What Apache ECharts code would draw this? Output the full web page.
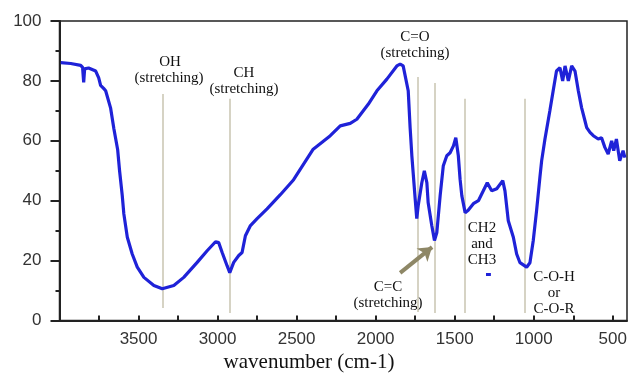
<!DOCTYPE html>
<html>
<head>
<meta charset="utf-8">
<script src="https://cdn.jsdelivr.net/npm/echarts@6/dist/echarts.min.js"></script>
<style>
html,body{margin:0;padding:0;background:#fff;}
#chart{width:630px;height:373px;}
</style>
</head>
<body>
<div id="chart"></div>
<script>
// wavenumber (cm-1) and transmittance (%)
const wavenumber = [3992,3929,3866,3854,3847,3841,3816,3771,3752,3740,3721,3708,3677,3656,3632,3620,3603,3593,3571,3540,3508,3466,3403,3350,3277,3214,3129,3066,3013,2993,2971,2940,2923,2898,2866,2845,2824,2792,2750,2687,2603,2519,2395,2287,2224,2161,2119,2047,1992,1929,1866,1845,1826,1794,1782,1771,1750,1740,1731,1708,1692,1676,1668,1645,1628,1613,1592,1572,1550,1529,1508,1493,1477,1466,1455,1434,1416,1382,1350,1319,1294,1266,1234,1196,1182,1161,1129,1108,1087,1045,1024,1003,982,961,950,929,898,877,856,834,817,802,781,760,739,718,697,676,665,644,623,592,571,550,529,507,494,477,456,435,423];
const transmittance = [86.1,85.8,85.2,84.5,79.5,84,84.3,83.3,81,78.5,77.5,76.7,71,64,57,50,41.7,35.6,27.8,22.2,17.8,14.4,11.7,10.6,11.7,14.4,19.4,23.3,26.3,26,22.7,18.3,16,19.4,21.7,22.7,28.3,31.7,34,37.3,42,47,57.2,61.7,65,65.8,67.2,72.2,76.7,80.6,85,85.6,85,76.7,64.4,55,40.6,34,38.3,46,50,46,39.4,31.7,26.7,29.4,41.7,51.7,55,56,58.3,61,55,47.2,41.7,36,36.7,39,40,43.3,46,43.3,44,46.7,43.3,33.3,27.8,22.2,19.3,17.8,19.3,26.7,36.7,47.8,53.3,60.6,70,76.7,83.3,84.4,80,85,80,85,83.3,76.7,71,66.7,64.4,62.8,61.7,60.6,61,57.8,55.6,60,56.7,60.6,53.3,56.7,54.4];
// small stray blue dash in the reference
const dashX = [1302, 1271];
const dashY = [15.4, 15.4];
// annotation band positions (wavenumber) and vertical extents (value)
const bandX = [3350, 2925, 1733, 1625, 1434, 1055];
const bandTop = [75.6, 74, 81.3, 79.3, 74, 74];
const bandBottom = [4.2, 2.5, 2.8, 2.5, 2.5, 2.5];
// arrow (data coords)
const arrowFrom = [1845, 15.9];
const arrowTo = [1643, 24.5];
const xLabels = [3500, 3000, 2500, 2000, 1500, 1000, 500];
const xTicks = [3750, 3500, 3250, 3000, 2750, 2500, 2250, 2000, 1750, 1500, 1250, 1000, 750, 500];

const chart = echarts.init(document.getElementById('chart'));
const serif = 'Liberation Serif, DejaVu Serif, serif';
const sans = 'Liberation Sans, Arial, sans-serif';

const bandLines = bandX.map((x, i) => [
  {coord: [x, bandTop[i]]},
  {coord: [x, bandBottom[i]]}
]);

function t(x, y, s, size) {
  return {type: 'text', x: x, y: y, style: {text: s, align: 'center', verticalAlign: 'middle', fill: '#111', font: (size || 15) + 'px ' + serif}};
}

chart.setOption({
  animation: false,
  backgroundColor: '#fff',
  grid: {left: 59.5, right: 3, top: 21, bottom: 52.5, show: true, borderColor: '#222', borderWidth: 1.5},
  xAxis: {
    type: 'value', inverse: true, min: 410, max: 4000,
    axisLine: {show: true, lineStyle: {color: '#222', width: 2}},
    axisTick: {show: true, inside: true, length: 5, customValues: xTicks, lineStyle: {color: '#222', width: 2}},
    axisLabel: {customValues: xLabels, formatter: v => String(v), color: '#333', fontSize: 17, fontFamily: sans, margin: 10},
    splitLine: {show: false}
  },
  yAxis: {
    type: 'value', min: 0, max: 100, interval: 20,
    axisLine: {show: true, lineStyle: {color: '#222', width: 2}},
    axisTick: {show: true, length: 9, lineStyle: {color: '#222', width: 2}},
    minorTick: {show: true, splitNumber: 2, length: 4, lineStyle: {color: '#222', width: 2}},
    axisLabel: {color: '#333', fontSize: 17, fontFamily: sans, margin: 18},
    splitLine: {show: false}
  },
  series: [
    {
      type: 'line', data: wavenumber.map((w, i) => [w, transmittance[i]]),
      showSymbol: false, symbol: 'none', smooth: false,
      lineStyle: {color: '#1f22d8', width: 3.2},
      z: 3,
      markLine: {
        silent: true, symbol: ['none', 'none'], label: {show: false},
        lineStyle: {color: '#c9c5b0', width: 1.5, type: 'solid'},
        data: bandLines.concat([[
          {coord: arrowFrom, lineStyle: {color: '#8e8766', width: 4}, symbol: 'none'},
          {coord: arrowTo, symbol: 'arrow', symbolSize: [13, 13]}
        ]]),
        z: 2
      }
    },
    {
      type: 'line', data: dashX.map((w, i) => [w, dashY[i]]),
      showSymbol: false, symbol: 'none', lineStyle: {color: '#1f22d8', width: 3}
    }
  ],
  graphic: [
    t(170, 62, 'OH'), t(169, 78, '(stretching)'),
    t(244, 73, 'CH'), t(244, 89, '(stretching)'),
    t(415, 37, 'C=O'), t(415, 53, '(stretching)'),
    t(388, 287, 'C=C'), t(388, 303, '(stretching)'),
    t(482, 228, 'CH2'), t(482, 244, 'and'), t(482, 260, 'CH3'),
    t(554, 277, 'C-O-H'), t(554, 293, 'or'), t(554, 309, 'C-O-R'),
    t(309, 362, 'wavenumber (cm-1)', 21)
  ]
});
</script>
</body>
</html>
